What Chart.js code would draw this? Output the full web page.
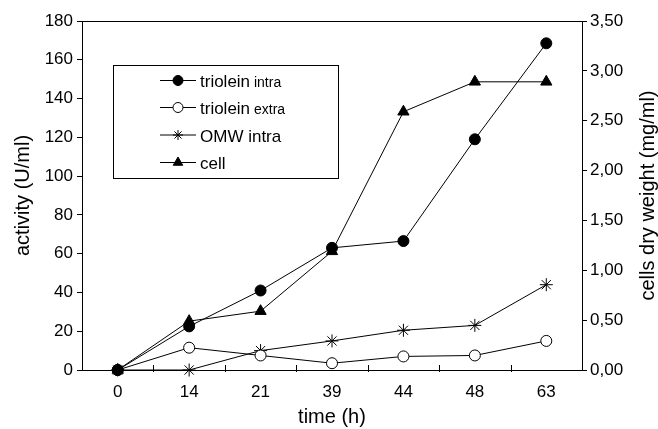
<!DOCTYPE html>
<html>
<head>
<meta charset="utf-8">
<script src="https://cdn.jsdelivr.net/npm/chart.js@4/dist/chart.umd.min.js"></script>
<style>
html,body{margin:0;padding:0;background:#fff;}
#wrap{width:658px;height:429px;position:relative;}
</style>
</head>
<body>
<div id="wrap"><canvas id="c" width="658" height="429"></canvas></div>
<script>
const categories = ['0','14','21','39','44','48','63'];
const trioleinIntra = [0, 22.5, 41, 63, 66.5, 119, 168.5];
const trioleinExtra = [0, 11.5, 7.5, 3.5, 7, 7.5, 15];
const omwIntra = [0, 0, 10, 15, 20.5, 23, 44];
const cellWeight = [0, 0.49, 0.59, 1.19, 2.59, 2.89, 2.89];
const leftTicks = [0,20,40,60,80,100,120,140,160,180];
const rightTicks = [0,0.5,1,1.5,2,2.5,3,3.5];

const FONT = "'Liberation Sans', Arial, sans-serif";

const legendItems = [
  {main:'triolein', small:' intra', style:'circle', fill:'#000', r:5},
  {main:'triolein', small:' extra', style:'circle', fill:'#fff', r:5},
  {main:'OMW intra', small:'', style:'star', fill:'#000', r:5},
  {main:'cell', small:'', style:'triangle', fill:'#000', r:5.5}
];

const decor = {
  id:'decor',
  afterDraw(chart){
    const ctx = chart.ctx, a = chart.chartArea;
    ctx.save();
    ctx.strokeStyle = '#000';
    ctx.lineWidth = 1;
    ctx.strokeRect(Math.round(a.left)+0.5, Math.round(a.top)+0.5, Math.round(a.right-a.left), Math.round(a.bottom-a.top));
    const xs = chart.scales.x;
    for (let i = 1; i < categories.length; i++) {
      const px = Math.round((xs.getPixelForValue(i-1) + xs.getPixelForValue(i))/2) + 0.5;
      ctx.beginPath();
      ctx.moveTo(px, a.bottom - 5);
      ctx.lineTo(px, a.bottom + 2);
      ctx.stroke();
    }
    const bx = 113.5, by = 65.5, bw = 225, bh = 113;
    ctx.fillStyle = '#fff';
    ctx.fillRect(bx, by, bw, bh);
    ctx.strokeRect(bx, by, bw, bh);
    const rows = [80, 107, 134.5, 162];
    legendItems.forEach((it, i) => {
      const y = rows[i];
      ctx.strokeStyle = '#000';
      ctx.beginPath();
      ctx.moveTo(160, y + 0.5);
      ctx.lineTo(196, y + 0.5);
      ctx.stroke();
      ctx.fillStyle = it.fill;
      Chart.helpers.drawPoint(ctx, {pointStyle: it.style, radius: it.r, rotation: 0, borderWidth: 1}, 178, y + 0.5);
      ctx.fillStyle = '#000';
      ctx.textBaseline = 'alphabetic';
      ctx.textAlign = 'left';
      ctx.font = '17px ' + FONT;
      ctx.fillText(it.main, 200, y + 7);
      const w = ctx.measureText(it.main).width;
      if (it.small) {
        ctx.font = '14px ' + FONT;
        ctx.fillText(it.small, 200 + w, y + 7);
      }
    });
    ctx.save();
    ctx.translate(648, (a.top + a.bottom)/2);
    ctx.rotate(-Math.PI/2);
    ctx.textAlign = 'center';
    ctx.textBaseline = 'middle';
    ctx.font = '20px ' + FONT;
    ctx.fillStyle = '#000';
    ctx.fillText('cells dry weight (mg/ml)', 0, 0);
    ctx.restore();
    ctx.restore();
  }
};

const lineDs = (label, data, style, bg, axis, r) => ({
  label, data, yAxisID: axis,
  borderColor: '#000', borderWidth: 1, backgroundColor: bg,
  pointStyle: style, pointRadius: r, pointHoverRadius: r,
  pointBackgroundColor: bg, pointBorderColor: '#000', pointBorderWidth: 1,
  tension: 0, fill: false, clip: false
});

new Chart(document.getElementById('c'), {
  type: 'line',
  data: {
    labels: categories,
    datasets: [
      lineDs('triolein intra', trioleinIntra, 'circle', '#000', 'y', 5.5),
      lineDs('triolein extra', trioleinExtra, 'circle', '#fff', 'y', 5.5),
      lineDs('OMW intra', omwIntra, 'star', '#000', 'y', 6.5),
      lineDs('cell', cellWeight, 'triangle', '#000', 'y1', 6.5)
    ]
  },
  options: {
    responsive: false,
    animation: false,
    events: [],
    layout: {padding: {top: 21, left: 0, right: 0, bottom: 0}},
    plugins: {legend: {display: false}, tooltip: {enabled: false}},
    scales: {
      x: {
        type: 'category',
        offset: true,
        border: {display: true, color: '#000', width: 1},
        grid: {display: false, drawTicks: false},
        ticks: {color: '#000', font: {family: FONT, size: 17}, padding: 12, maxRotation: 0},
        title: {display: true, text: 'time (h)', color: '#000', font: {family: FONT, size: 20}, padding: {top: 0, bottom: 0}},
        afterFit(s){ s.height = 59; }
      },
      y: {
        position: 'left',
        min: 0, max: 180,
        afterBuildTicks(s){ s.ticks = leftTicks.map(v => ({value: v})); },
        border: {display: true, color: '#000', width: 1},
        grid: {drawOnChartArea: false, drawTicks: true, tickLength: 5, color: '#000'},
        ticks: {color: '#000', font: {family: FONT, size: 17}, padding: 4},
        title: {display: true, text: 'activity (U/ml)', color: '#000', font: {family: FONT, size: 20}, padding: {top: 11, bottom: 0}},
        afterFit(s){ s.width = 82; }
      },
      y1: {
        position: 'right',
        min: 0, max: 3.5,
        afterBuildTicks(s){ s.ticks = rightTicks.map(v => ({value: v})); },
        border: {display: true, color: '#000', width: 1},
        grid: {drawOnChartArea: false, drawTicks: true, tickLength: 5, color: '#000'},
        ticks: {color: '#000', font: {family: FONT, size: 17}, padding: 3, callback: v => v.toFixed(2).replace('.', ',')},
        afterFit(s){ s.width = 76; }
      }
    }
  },
  plugins: [decor]
});
</script>
</body>
</html>
